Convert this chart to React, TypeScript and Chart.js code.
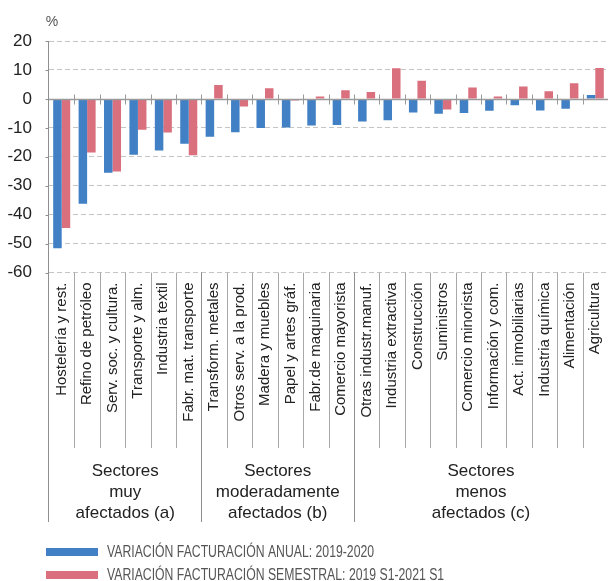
import React, { useEffect, useRef } from "react";
import { Chart, registerables } from "chart.js";

Chart.register(...registerables);

const categories = [
  "Hostelería y rest.",
  "Refino de petróleo",
  "Serv. soc. y cultura.",
  "Transporte y alm.",
  "Industria textil",
  "Fabr. mat. transporte",
  "Transform. metales",
  "Otros serv. a la prod.",
  "Madera y muebles",
  "Papel y artes gráf.",
  "Fabr.de maquinaria",
  "Comercio mayorista",
  "Otras industr.manuf.",
  "Industria extractiva",
  "Construcción",
  "Suministros",
  "Comercio minorista",
  "Información y com.",
  "Act. inmobiliarias",
  "Industria química",
  "Alimentación",
  "Agricultura",
];

const annualValues = [
  -51.6, -36.2, -25.5, -19.3, -17.8, -15.5, -13.1, -11.5, -10.1, -9.9, -9.2,
  -9.0, -7.8, -7.4, -4.7, -5.1, -4.9, -4.1, -2.2, -4.0, -3.4, 1.3,
];

const semesterValues = [
  -44.6, -18.5, -25.1, -10.7, -11.6, -19.5, 4.8, -2.6, 3.7, -0.6, 0.8, 3.0,
  2.4, 10.6, 6.3, -3.7, 3.9, 0.8, 4.3, 2.6, 5.4, 10.7,
];

const seriesNames = [
  "VARIACIÓN FACTURACIÓN ANUAL: 2019-2020",
  "VARIACIÓN FACTURACIÓN SEMESTRAL: 2019 S1-2021 S1",
];

const groupLabels = [
  ["Sectores", "muy", "afectados (a)"],
  ["Sectores", "moderadamente", "afectados (b)"],
  ["Sectores", "menos", "afectados (c)"],
];
const groupSizes = [6, 6, 10];

const yMin = -60;
const yMax = 20;
const yStep = 10;
const unitLabel = "%";

const BLUE = "rgb(65,128,196)";
const RED = "rgb(218,111,126)";

const decorPlugin = {
  id: "decor",
  afterDraw(chart: any) {
    const { ctx, chartArea } = chart;
    const xs = chart.scales.x;
    const ys = chart.scales.y;
    const n = categories.length;
    const boundary = (i: number) => {
      if (i <= 0) return chartArea.left;
      if (i >= n) return chartArea.right;
      return (xs.getPixelForValue(i - 1) + xs.getPixelForValue(i)) / 2;
    };
    const zeroY = Math.round(ys.getPixelForValue(0)) + 0.5;
    const labelBottom = xs.bottom;
    const groupBottom = labelBottom + 74;

    ctx.save();
    // zero line
    ctx.strokeStyle = "#9a9a9a";
    ctx.lineWidth = 1.5;
    ctx.beginPath();
    ctx.moveTo(chartArea.left, zeroY);
    ctx.lineTo(chartArea.right, zeroY);
    ctx.stroke();
    // zero ticks
    ctx.lineWidth = 1;
    for (let i = 1; i < n; i++) {
      const bx = Math.round(boundary(i)) + 0.5;
      ctx.beginPath();
      ctx.moveTo(bx, zeroY - 5);
      ctx.lineTo(bx, zeroY + 5);
      ctx.stroke();
    }
    // y axis line
    const ax = Math.round(chartArea.left) - 0.5;
    ctx.strokeStyle = "#8f8f8f";
    ctx.beginPath();
    ctx.moveTo(ax, chartArea.top);
    ctx.lineTo(ax, groupBottom);
    ctx.stroke();
    // small ticks on y axis
    for (let v = yMin; v <= yMax; v += yStep) {
      const ty = Math.round(ys.getPixelForValue(v)) + 0.5;
      ctx.beginPath();
      ctx.moveTo(ax - 3, ty);
      ctx.lineTo(ax, ty);
      ctx.stroke();
    }
    // category separators in label area
    ctx.strokeStyle = "#a8a8a8";
    for (let i = 1; i < n; i++) {
      const bx = Math.round(boundary(i)) + 0.5;
      ctx.beginPath();
      ctx.moveTo(bx, chartArea.bottom);
      ctx.lineTo(bx, labelBottom);
      ctx.stroke();
    }
    // group separators and labels
    let start = 0;
    ctx.fillStyle = "#222";
    ctx.font = "17px 'Liberation Sans', Arial, sans-serif";
    ctx.textAlign = "center";
    ctx.textBaseline = "middle";
    groupSizes.forEach((size, g) => {
      const x0 = boundary(start);
      const x1 = boundary(start + size);
      if (start > 0) {
        const gx = Math.round(x0) + 0.5;
        ctx.strokeStyle = "#8f8f8f";
        ctx.beginPath();
        ctx.moveTo(gx, chartArea.bottom);
        ctx.lineTo(gx, groupBottom);
        ctx.stroke();
      }
      const cx = (x0 + x1) / 2;
      groupLabels[g].forEach((line, li) => {
        ctx.fillText(line, cx, labelBottom + 23 + li * 21);
      });
      start += size;
    });
    // unit label
    ctx.fillStyle = "#555";
    ctx.font = "14px 'Liberation Sans', Arial, sans-serif";
    ctx.fillText(unitLabel, chartArea.left + 3, chartArea.top - 19);
    // legend
    const colors = [BLUE, RED];
    ctx.textAlign = "left";
    seriesNames.forEach((name, i) => {
      const cy = 552 + i * 23;
      ctx.fillStyle = colors[i];
      ctx.fillRect(46, cy - 4, 52, 8);
      ctx.save();
      ctx.translate(107, cy + 1);
      ctx.scale(0.765, 1);
      ctx.font = "16px 'Liberation Sans', Arial, sans-serif";
      ctx.fillStyle = "#555";
      ctx.fillText(name, 0, 0);
      ctx.restore();
    });
    ctx.restore();
  },
};

export default function App() {
  const ref = useRef<HTMLCanvasElement>(null);
  useEffect(() => {
    if (!ref.current) return;
    const chart = new Chart(ref.current, {
      type: "bar",
      data: {
        labels: categories,
        datasets: [
          { label: seriesNames[0], data: annualValues, backgroundColor: BLUE },
          { label: seriesNames[1], data: semesterValues, backgroundColor: RED },
        ],
      },
      options: {
        animation: false,
        responsive: false,
        devicePixelRatio: 1,
        layout: { padding: { top: 41, right: 1, bottom: 133, left: 0 } },
        plugins: { legend: { display: false }, tooltip: { enabled: false } },
        datasets: { bar: { categoryPercentage: 0.67, barPercentage: 1 } },
        scales: {
          x: {
            grid: { display: false, drawTicks: false },
            border: { display: false },
            ticks: {
              autoSkip: false,
              minRotation: 90,
              maxRotation: 90,
              padding: 10,
              color: "#222",
              font: { family: "'Liberation Sans', Arial, sans-serif", size: 15 },
            },
            afterFit: (s: any) => {
              s.height = 175.5;
              s.paddingLeft = 0;
              s.paddingRight = 0;
            },
          },
          y: {
            min: yMin,
            max: yMax,
            grid: {
              drawTicks: false,
              color: (c: any) => (c.tick && c.tick.value === 0 ? "rgba(0,0,0,0)" : "#c4c4c4"),
              lineWidth: 1,
            },
            border: { display: false, dash: [5, 3] },
            ticks: {
              stepSize: yStep,
              padding: 17,
              color: "#222",
              font: { family: "'Liberation Sans', Arial, sans-serif", size: 17 },
            },
            afterFit: (s: any) => {
              s.width = 49;
            },
          },
        },
      },
      plugins: [decorPlugin],
    });
    return () => chart.destroy();
  }, []);
  return (
    <div style={{ position: "fixed", left: 0, top: 0, width: 609, height: 581, background: "#fff" }}>
      <canvas ref={ref} width={609} height={581} />
    </div>
  );
}
